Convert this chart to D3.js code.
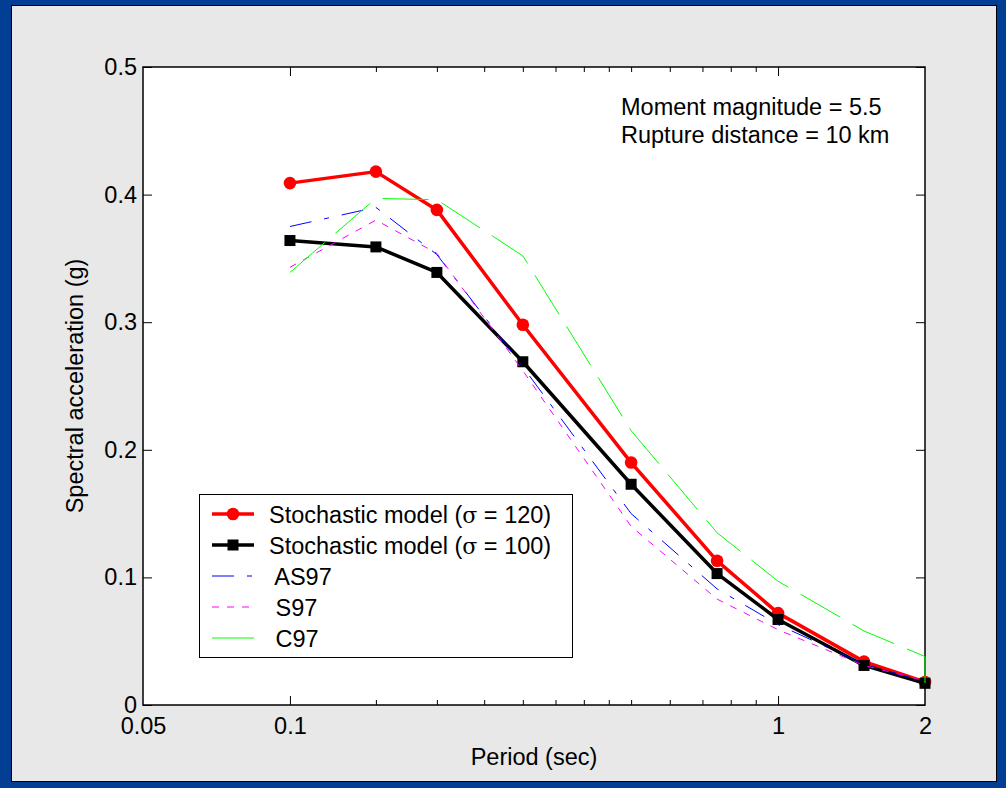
<!DOCTYPE html>
<html>
<head>
<meta charset="utf-8">
<script src="https://cdn.jsdelivr.net/npm/d3@7"></script>
<style>
  body { margin: 0; }
  svg { display: block; font-family: Arial, "Liberation Sans", Helvetica, sans-serif; }
</style>
</head>
<body>
<div class="graph"></div>
<script>
// periods (sec) and spectral accelerations (g)
let periods = [0.1, 0.15, 0.2, 0.3, 0.5, 0.75, 1, 1.5, 2];
let stoch120 = [0.409, 0.418, 0.388, 0.298, 0.190, 0.113, 0.072, 0.034, 0.018];
let stoch100 = [0.364, 0.359, 0.339, 0.269, 0.173, 0.103, 0.067, 0.031, 0.017];
let as97 = [0.375, 0.390, 0.353, 0.265, 0.150, 0.091, 0.063, 0.032, 0.018];
let s97 = [0.343, 0.380, 0.354, 0.262, 0.140, 0.083, 0.059, 0.031, 0.019];
// C97 ends with a vertical drop at 2 sec
let c97Periods = [0.1, 0.15, 0.2, 0.3, 0.5, 0.75, 1, 1.5, 2, 2];
let c97 = [0.339, 0.397, 0.396, 0.352, 0.215, 0.135, 0.097, 0.058, 0.038, 0.017];

let xLabelTicks = [0.05, 0.1, 1, 2];
let xMajorTicks = [0.1, 1];
let xMinorTicks = [0.15, 0.2, 0.25, 0.3, 0.35, 0.4, 0.45, 0.5, 0.6, 0.7, 0.8, 0.9];
let yTicks = [0, 0.1, 0.2, 0.3, 0.4, 0.5];

let W = 1006, H = 788;
let margin = {top: 67, right: 81, bottom: 83, left: 143},
    width = W - margin.left - margin.right,
    height = H - margin.top - margin.bottom;
let fs = "23.5px";

let svg = d3.select(".graph").append("svg")
    .attr("width", W).attr("height", H);

// slide frame
svg.append("rect").attr("width", W).attr("height", H).attr("fill", "#023e94");
svg.append("rect")
    .attr("x", 11.5).attr("y", 5.5).attr("width", 985).attr("height", 776)
    .attr("fill", "#e8e8e8").attr("stroke", "#000").attr("stroke-width", 1);

let x = d3.scaleLog().domain([0.05, 2]).range([0, width]);
let y = d3.scaleLinear().domain([0, 0.5]).range([height, 0]);

let g = svg.append("g").attr("transform", "translate(" + margin.left + "," + margin.top + ")");

g.append("rect").attr("width", width).attr("height", height).attr("fill", "#fff");

let styleAxis = (sel) => {
    sel.select(".domain").remove();
    sel.selectAll("line").attr("stroke", "#000").attr("stroke-width", 1);
    sel.selectAll("text").attr("fill", "#000").style("font-size", fs).style("font-family", null);
    sel.attr("font-family", null).attr("font-size", null);
};

// bottom axis: labels + major ticks
g.append("g").attr("transform", "translate(0," + height + ")")
    .call(d3.axisBottom(x).tickValues(xLabelTicks).tickFormat(d => d).tickSizeInner(0).tickSizeOuter(0).tickPadding(12))
    .call(styleAxis);
[["translate(0," + height + ")", d3.axisBottom], ["translate(0,0)", d3.axisTop]].forEach(([tr, ax]) => {
    g.append("g").attr("transform", tr)
        .call(ax(x).tickValues(xMajorTicks).tickFormat("").tickSizeInner(-9).tickSizeOuter(0))
        .call(styleAxis);
    g.append("g").attr("transform", tr)
        .call(ax(x).tickValues(xMinorTicks).tickFormat("").tickSizeInner(-5).tickSizeOuter(0))
        .call(styleAxis);
});

// y axes
g.append("g")
    .call(d3.axisLeft(y).tickValues(yTicks).tickFormat(d => d).tickSizeInner(-9).tickSizeOuter(0).tickPadding(6))
    .call(styleAxis)
    .selectAll("text").attr("x", -6);
g.append("g").attr("transform", "translate(" + width + ",0)")
    .call(d3.axisRight(y).tickValues(yTicks).tickFormat("").tickSizeInner(-9).tickSizeOuter(0))
    .call(styleAxis);

g.append("rect").attr("width", width).attr("height", height)
    .attr("fill", "none").attr("stroke", "#000").attr("stroke-width", 1.5);

// axis titles
svg.append("text").attr("x", 534).attr("y", 765).attr("text-anchor", "middle")
    .style("font-size", fs).text("Period (sec)");
svg.append("text").attr("transform", "translate(83,386) rotate(-90)").attr("text-anchor", "middle")
    .style("font-size", fs).text("Spectral acceleration (g)");

// series
let series = [
    {name: "stoch120", xs: periods, ys: stoch120, color: "#ff0000", w: 3.5, dash: null, marker: "circle"},
    {name: "stoch100", xs: periods, ys: stoch100, color: "#000000", w: 3.5, dash: null, marker: "square"},
    {name: "AS97", xs: periods, ys: as97, color: "#0000ff", w: 1, dash: "22,13,5,13", marker: null},
    {name: "S97", xs: periods, ys: s97, color: "#ff00ff", w: 1, dash: "7,8", marker: null},
    {name: "C97", xs: c97Periods, ys: c97, color: "#00ff00", w: 1, dash: "46,14", marker: null}
];

let line = d3.line().x(d => x(d[0])).y(d => y(d[1]));

let drawMarker = (sel, type, color, cx, cy) => {
    if (type === "circle") {
        sel.append("circle").attr("cx", cx).attr("cy", cy).attr("r", 6.3).attr("fill", color);
    } else if (type === "square") {
        sel.append("rect").attr("x", cx - 5.5).attr("y", cy - 5.5)
            .attr("width", 11).attr("height", 11).attr("fill", color);
    }
};

series.forEach(s => {
    let pts = s.xs.map((p, i) => [p, s.ys[i]]);
    g.append("path").datum(pts)
        .attr("d", line)
        .attr("fill", "none")
        .attr("stroke", s.color)
        .attr("stroke-width", s.w)
        .attr("stroke-dasharray", s.dash)
        .attr("stroke-linejoin", "round");
    if (s.marker) {
        let mg = g.append("g");
        pts.forEach(d => drawMarker(mg, s.marker, s.color, x(d[0]), y(d[1])));
    }
});

// legend
let legend = svg.append("g");
legend.append("rect").attr("x", 199.5).attr("y", 494.5).attr("width", 373).attr("height", 163)
    .attr("fill", "#fff").attr("stroke", "#000").attr("stroke-width", 1);
let legendLabels = [
    ["Stochastic model (", "σ", " = 120)"],
    ["Stochastic model (", "σ", " = 100)"],
    [" AS97"], [" S97"], [" C97"]
];
series.forEach((s, i) => {
    let ly = 514 + i * 31;
    legend.append("line").attr("x1", 212).attr("x2", 254).attr("y1", ly).attr("y2", ly)
        .attr("stroke", s.color).attr("stroke-width", s.w).attr("stroke-dasharray", s.dash);
    if (s.marker) drawMarker(legend, s.marker, s.color, 233, ly);
    let t = legend.append("text").attr("x", 269).attr("y", ly + 8.5)
        .style("font-size", fs).attr("xml:space", "preserve").style("white-space", "pre");
    legendLabels[i].forEach(part => {
        let ts = t.append("tspan").text(part);
        if (part === "σ") ts.style("font-family", "'DejaVu Serif', 'Liberation Serif', serif").style("font-size", "22px");
    });
});

// annotation
svg.append("text").attr("x", 621).attr("y", 115).style("font-size", fs).text("Moment magnitude = 5.5");
svg.append("text").attr("x", 621).attr("y", 143).style("font-size", fs).text("Rupture distance = 10 km");
</script>
</body>
</html>
